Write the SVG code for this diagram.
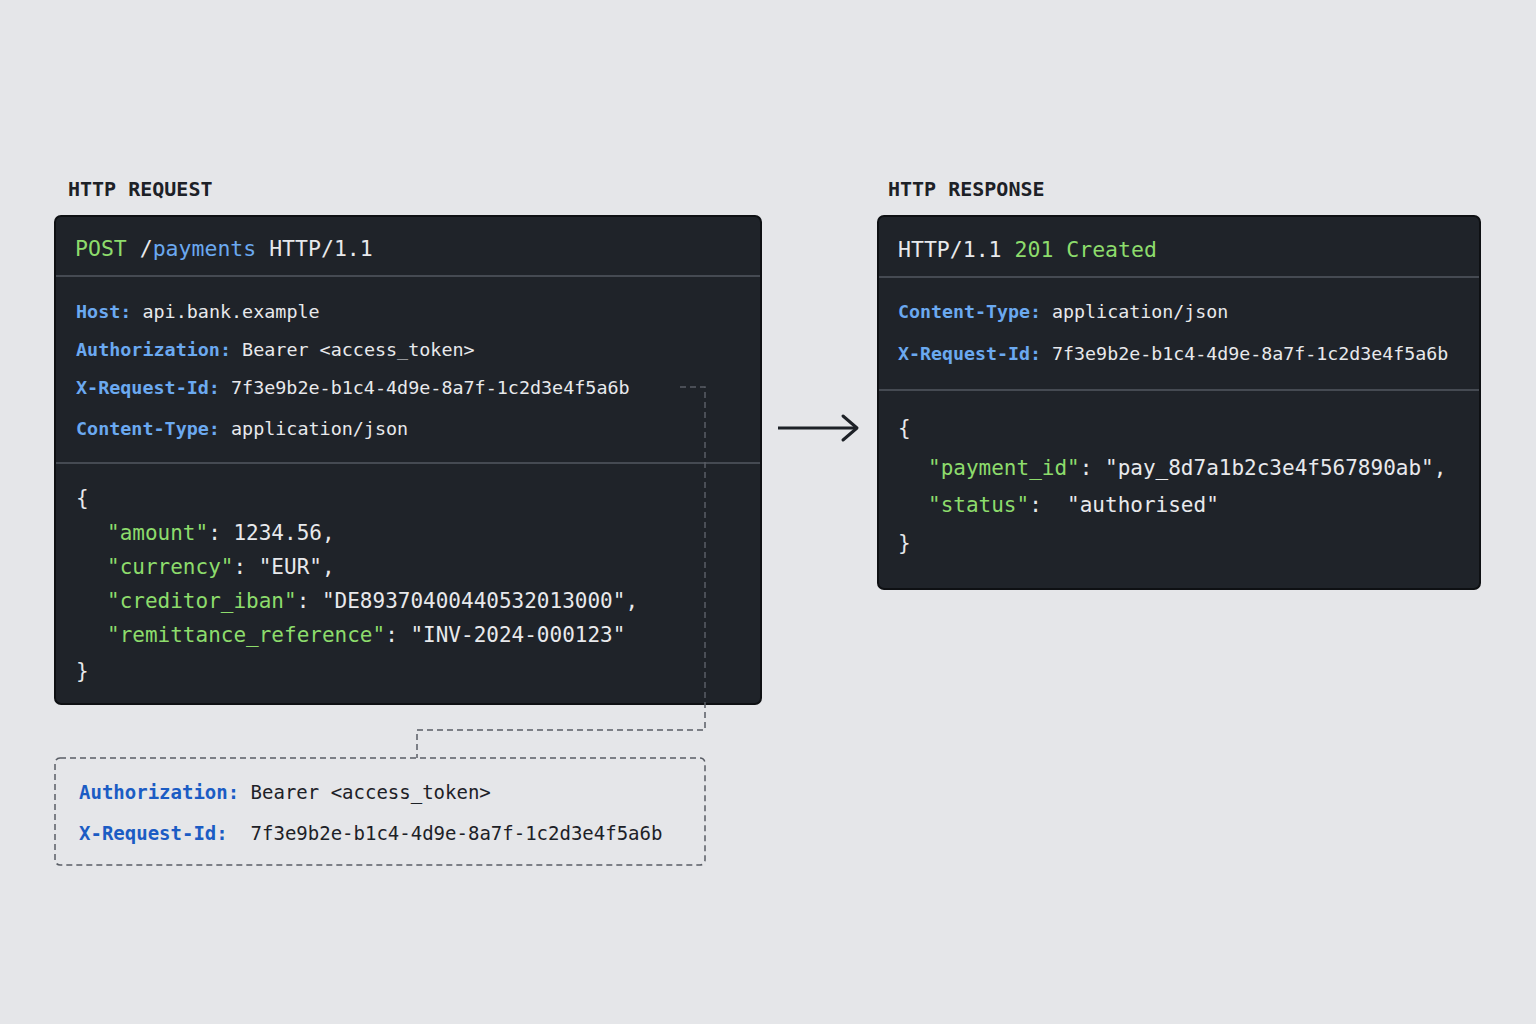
<svg xmlns="http://www.w3.org/2000/svg" width="1536" height="1024" viewBox="0 0 1536 1024">
<style>
text{font-family:"DejaVu Sans Mono","Liberation Mono",monospace;white-space:pre}
.h{font-size:20px;font-weight:bold;fill:#1d2127}
.t{fill:#e8e9ec}
.k{fill:#6ba9f0;font-weight:bold}
.g{fill:#8ddc6c}
.box{fill:#1f2329;stroke:#0e1013;stroke-width:2}
.sep{stroke:#454a52;stroke-width:2}
.dash{fill:none;stroke:#5a5e66;stroke-width:1.5;stroke-dasharray:6 4}
.dk{fill:#1b5cc4;font-weight:bold}
.dt{fill:#1d2127}
</style>
<rect width="1536" height="1024" fill="#e5e6e9"/>
<text class="h" x="68" y="196">HTTP REQUEST</text>
<text class="h" x="888" y="196">HTTP RESPONSE</text>
<g id="request">
<rect class="box" x="55" y="216" width="706" height="488" rx="6"/>
<line class="sep" x1="56" y1="276" x2="760" y2="276"/>
<line class="sep" x1="56" y1="463" x2="760" y2="463"/>
<text x="75" y="256" font-size="21.5"><tspan class="g">POST</tspan><tspan class="t"> /</tspan><tspan fill="#6ba9f0">payments</tspan><tspan class="t"> HTTP/1.1</tspan></text>
<g font-size="18.4">
<text x="76" y="318"><tspan class="k">Host:</tspan><tspan class="t"> api.bank.example</tspan></text>
<text x="76" y="356"><tspan class="k">Authorization:</tspan><tspan class="t"> Bearer &lt;access_token&gt;</tspan></text>
<text x="76" y="394"><tspan class="k">X-Request-Id:</tspan><tspan class="t"> 7f3e9b2e-b1c4-4d9e-8a7f-1c2d3e4f5a6b</tspan></text>
<text x="76" y="435"><tspan class="k">Content-Type:</tspan><tspan class="t"> application/json</tspan></text>
</g>
<g font-size="21">
<text class="t" x="76" y="505">{</text>
<text x="107" y="540"><tspan class="g">"amount"</tspan><tspan class="t">: 1234.56,</tspan></text>
<text x="107" y="574"><tspan class="g">"currency"</tspan><tspan class="t">: "EUR",</tspan></text>
<text x="107" y="608"><tspan class="g">"creditor_iban"</tspan><tspan class="t">: "DE89370400440532013000",</tspan></text>
<text x="107" y="642"><tspan class="g">"remittance_reference"</tspan><tspan class="t">: "INV-2024-000123"</tspan></text>
<text class="t" x="76" y="678">}</text>
</g>
</g>
<g id="response">
<rect class="box" x="878" y="216" width="602" height="373" rx="6"/>
<line class="sep" x1="879" y1="277" x2="1479" y2="277"/>
<line class="sep" x1="879" y1="390" x2="1479" y2="390"/>
<text x="898" y="257" font-size="21.5"><tspan class="t">HTTP/1.1 </tspan><tspan class="g">201 Created</tspan></text>
<g font-size="18.3">
<text x="898" y="318"><tspan class="k">Content-Type:</tspan><tspan class="t"> application/json</tspan></text>
<text x="898" y="360"><tspan class="k">X-Request-Id:</tspan><tspan class="t"> 7f3e9b2e-b1c4-4d9e-8a7f-1c2d3e4f5a6b</tspan></text>
</g>
<g font-size="21">
<text class="t" x="898" y="435">{</text>
<text x="928" y="475"><tspan class="g">"payment_id"</tspan><tspan class="t">: "pay_8d7a1b2c3e4f567890ab",</tspan></text>
<text x="928" y="512"><tspan class="g">"status"</tspan><tspan class="t">:  "authorised"</tspan></text>
<text class="t" x="898" y="550">}</text>
</g>
</g>
<g id="detail">
<rect class="dash" x="55" y="758" width="650" height="107" rx="5"/>
<g font-size="19">
<text x="79" y="799"><tspan class="dk">Authorization:</tspan><tspan class="dt"> Bearer &lt;access_token&gt;</tspan></text>
<text x="79" y="840"><tspan class="dk">X-Request-Id:</tspan><tspan class="dt">  7f3e9b2e-b1c4-4d9e-8a7f-1c2d3e4f5a6b</tspan></text>
</g>
</g>
<g id="connectors">
<polyline class="dash" stroke="#80858d" points="680,387 705,387 705,730 417,730 417,758"/>
<line x1="778" y1="428" x2="856" y2="428" stroke="#1d2127" stroke-width="3"/>
<polyline points="843,416 857,428 843,440" fill="none" stroke="#1d2127" stroke-width="3" stroke-linecap="round" stroke-linejoin="round"/>
</g>
</svg>
